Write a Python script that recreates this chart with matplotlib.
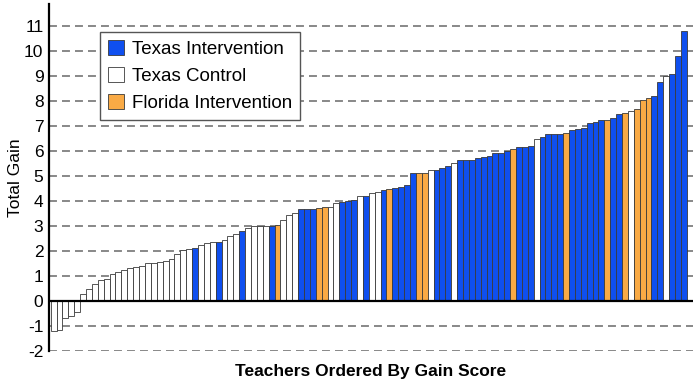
import numpy as np
import matplotlib
matplotlib.use('Agg')
import matplotlib.pyplot as plt
from matplotlib.patches import Patch

# gain score of each teacher, sorted from lowest to highest
gain = [-1.2, -1.15, -0.7, -0.62, -0.45, 0.27, 0.48, 0.68, 0.84, 0.86,
        1.07, 1.15, 1.24, 1.32, 1.36, 1.38, 1.51, 1.53, 1.55, 1.58,
        1.67, 1.86, 2.04, 2.06, 2.11, 2.24, 2.31, 2.35, 2.36, 2.45,
        2.59, 2.68, 2.81, 2.93, 3.0, 3.0, 3.0, 3.0, 3.05, 3.23,
        3.44, 3.52, 3.66, 3.67, 3.68, 3.71, 3.76, 3.77, 3.92, 3.95,
        4.01, 4.05, 4.21, 4.21, 4.32, 4.35, 4.43, 4.48, 4.52, 4.56,
        4.64, 5.11, 5.11, 5.13, 5.25, 5.25, 5.32, 5.39, 5.51, 5.63,
        5.63, 5.65, 5.71, 5.77, 5.81, 5.91, 5.93, 5.99, 6.06, 6.14,
        6.17, 6.2, 6.49, 6.57, 6.66, 6.69, 6.69, 6.72, 6.82, 6.89,
        6.92, 7.12, 7.15, 7.22, 7.25, 7.31, 7.49, 7.52, 7.59, 7.68,
        8.05, 8.11, 8.19, 8.75, 8.99, 9.08, 9.81, 10.81]

# group of each teacher: TI = Texas Intervention, TC = Texas Control, FI = Florida Intervention
group = (['TC'] * 24 + ['TI'] + ['TC'] * 3 + ['TI'] + ['TC'] * 3 + ['TI'] +
         ['TC'] * 4 + ['TI', 'FI'] + ['TC'] * 3 + ['TI'] * 3 + ['FI'] * 2 +
         ['TC'] * 2 + ['TI'] * 3 + ['TC', 'TI', 'TC', 'TC', 'TI', 'FI'] +
         ['TI'] * 4 + ['FI'] * 2 + ['TC'] + ['TI'] * 3 + ['TC'] + ['TI'] * 9 +
         ['FI'] + ['TI'] * 3 + ['TC'] + ['TI'] * 4 + ['FI'] + ['TI'] * 6 +
         ['FI'] + ['TI'] * 2 + ['FI', 'TC'] + ['FI'] * 3 + ['TI'] * 2 + ['TC'] +
         ['TI'] * 3)

group_names = ['Texas Intervention', 'Texas Control', 'Florida Intervention']
group_keys = ['TI', 'TC', 'FI']
group_colors = {'TI': '#0F4FEF', 'TC': '#FFFFFF', 'FI': '#F9AA45'}

plt.rcParams['font.family'] = ['Liberation Sans', 'DejaVu Sans']
plt.rcParams['axes.unicode_minus'] = False

fig = plt.figure(figsize=(7, 3.87), dpi=100)
ax = fig.add_axes([0.07, 0.093, 0.92, 0.897])

x = np.arange(len(gain))
ax.bar(x, gain, width=1.0, color=[group_colors[g] for g in group],
       edgecolor='#3a3a3a', linewidth=0.6, zorder=3)

ax.set_xlim(-0.79, 108.55)
ax.set_ylim(-2, 11.88)
ax.set_yticks(range(-2, 12))
ax.set_xticks([])
ax.yaxis.grid(True, color='#7f7f7f', linestyle=(0, (4.4, 2.8)), linewidth=1.3, zorder=0)
ax.axhline(0, color='black', linewidth=1.6, zorder=4)

for s in ['top', 'right', 'bottom']:
    ax.spines[s].set_visible(False)
ax.spines['left'].set_linewidth(1.6)
ax.spines['left'].set_zorder(5)
ax.tick_params(axis='y', length=0, pad=4, labelsize=12.5)

ax.set_ylabel('Total Gain', fontsize=12.5, labelpad=1)
ax.set_xlabel('Teachers Ordered By Gain Score', fontsize=12.5, fontweight='bold', labelpad=9)

handles = [Patch(facecolor=group_colors[k], edgecolor='#3a3a3a', linewidth=0.6) for k in group_keys]
leg = ax.legend(handles, group_names, loc='upper left', bbox_to_anchor=(0.079, 0.918),
                fontsize=13.5, frameon=True, fancybox=False, framealpha=1,
                edgecolor='#555555', handlelength=0.85, handleheight=0.8,
                handletextpad=0.45, labelspacing=0.5, borderpad=0.42,
                borderaxespad=0.0)
leg.get_frame().set_linewidth(1.0)
leg.set_zorder(6)

plt.savefig('out.png', dpi=100)
